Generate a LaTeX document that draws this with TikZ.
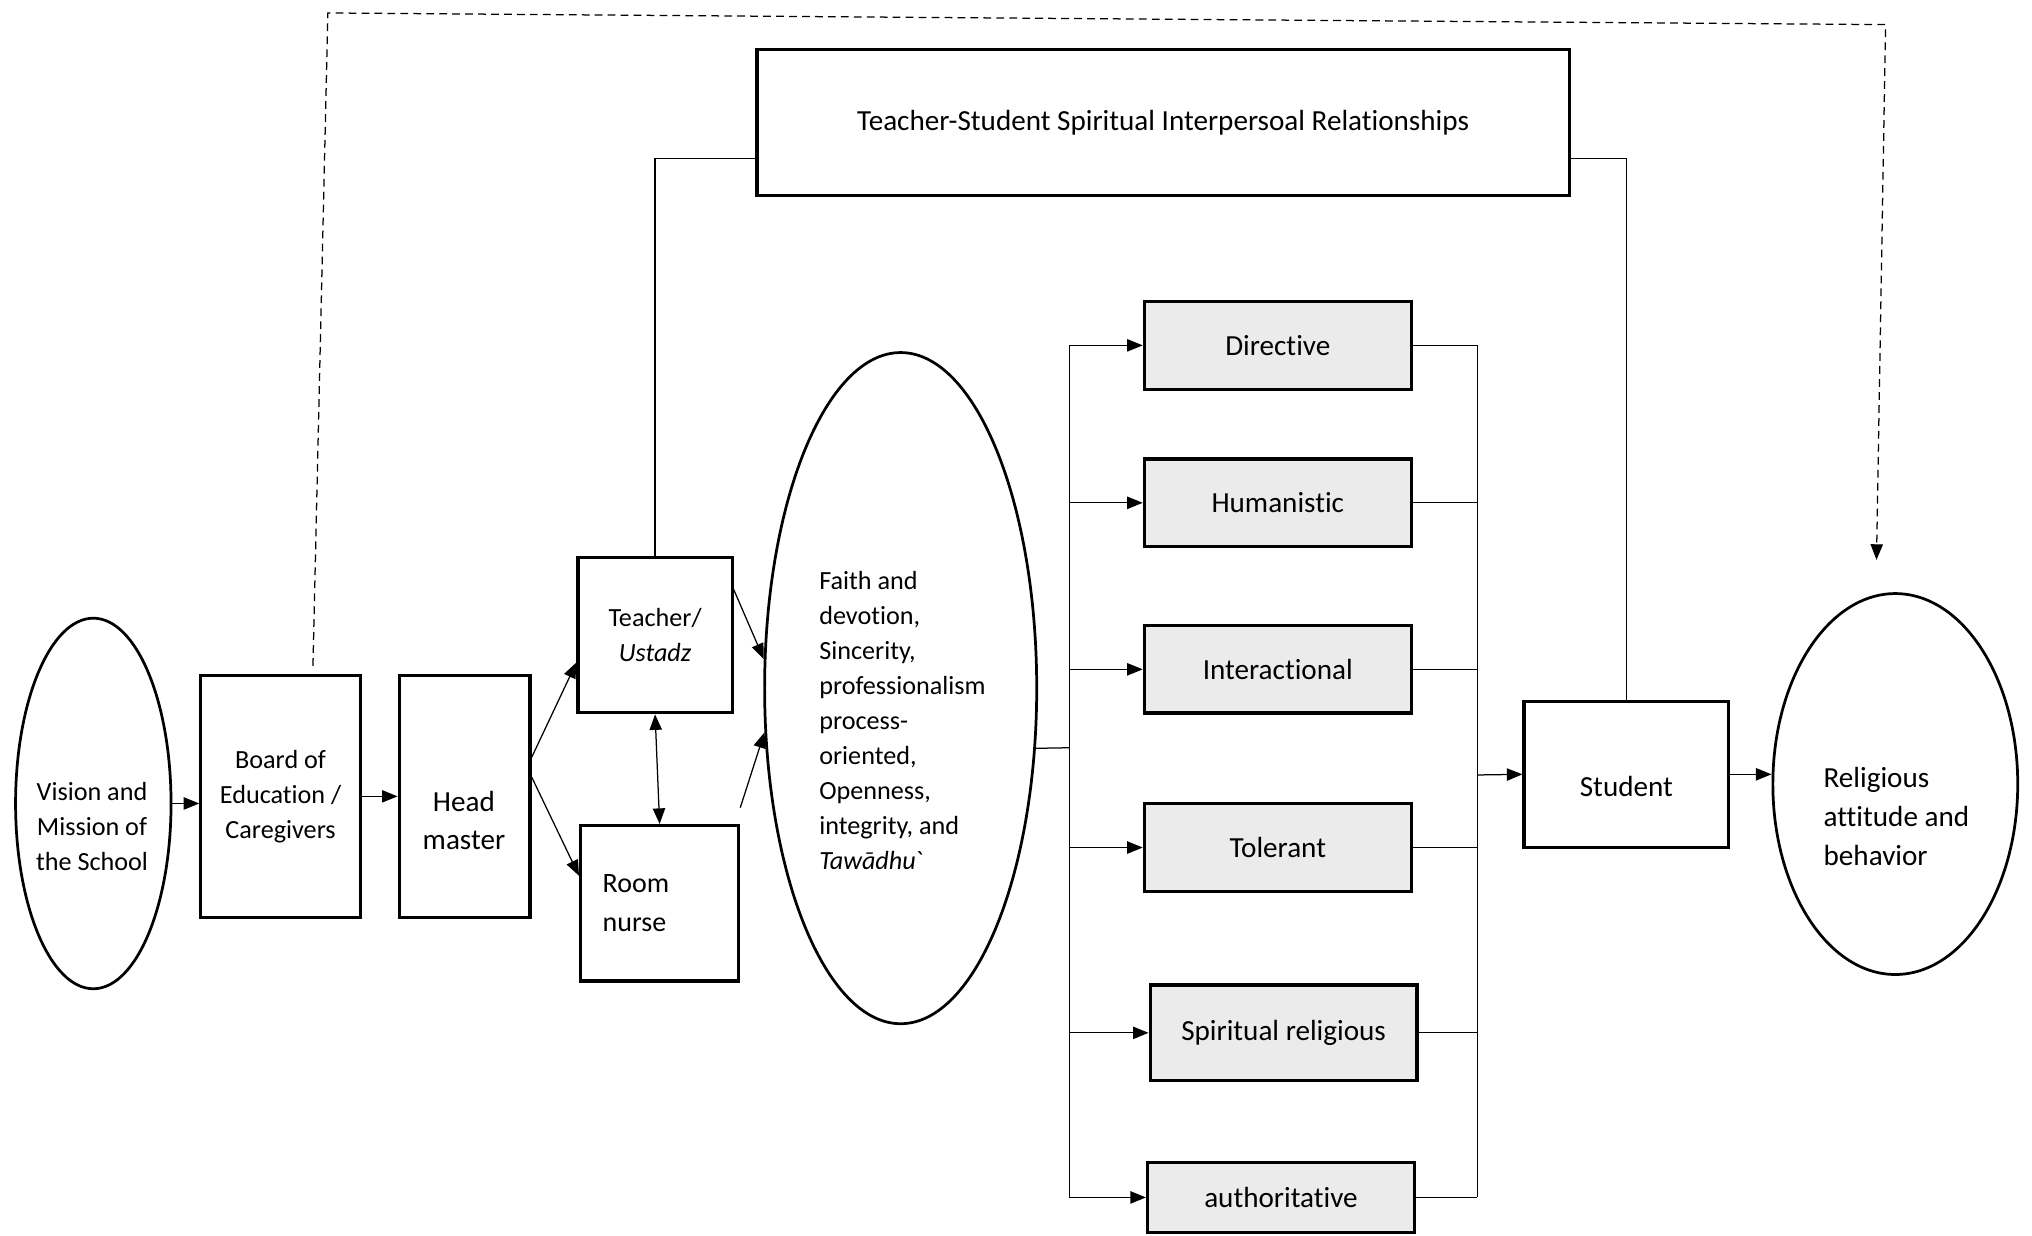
\documentclass[tikz,border=0pt]{standalone}
\usepackage{fontspec}
\setmainfont{Carlito}[Ligatures={TeX,NoCommon}]
\usetikzlibrary{shapes,arrows.meta,positioning}

\begin{document}
\begin{tikzpicture}[
    x=0.02cm, y=-0.02cm,
    >={Triangle[length=0.24cm, width=0.19cm]},
    plainbox/.style={rectangle, draw, line width=1.4pt, fill=white, align=center, inner sep=0pt, font=\fontsize{12.8}{17}\selectfont},
    graybox/.style={plainbox, fill=black!8, minimum width=4.12cm, minimum height=1.35cm},
    oval/.style={ellipse, draw, line width=1.2pt, inner sep=0pt},
    smalltext/.style={font=\fontsize{11.5}{15.4}\selectfont},
    link/.style={line width=0.55pt},
    flow/.style={link, ->},
    dashedlink/.style={flow, dash pattern=on 0.12cm off 0.08cm}
]
    \useasboundingbox (0,0) rectangle (1568,953);

    \node [oval, minimum width=2.4cm, minimum height=5.72cm] (vision) at (72,620) {};
    \node [smalltext, align=center] (visiontext) at (71,638) {Vision and\\Mission of\\the School};

    \node [plainbox, smalltext, minimum width=2.46cm, minimum height=3.74cm] (board) at (216.5,614.5) {Board of\\Education /\\Caregivers};

    \node [plainbox, minimum width=2.02cm, minimum height=3.74cm] (head) at (358.5,614.5) {};
    \node [align=center, font=\fontsize{12.8}{16.5}\selectfont] (headtext) at (358,633) {Head\\master};

    \node [plainbox, smalltext, minimum width=2.38cm, minimum height=2.4cm] (teacher) at (505.5,490) {Teacher/\\\textit{Ustadz}};
    \node [plainbox, text width=1.76cm, align=left, minimum width=2.44cm, minimum height=2.4cm, font=\fontsize{12.3}{17}\selectfont] (nurse) at (509,697) {Room\\nurse};

    \node [oval, minimum width=4.2cm, minimum height=10.36cm] (values) at (695,531) {};
    \node [smalltext, align=left, anchor=west] (valuestext) at (626,556) {Faith and\\devotion,\\Sincerity,\\professionalism\\process-\\oriented,\\Openness,\\integrity, and\\\textit{Tawādhu}\textasciigrave};

    \node [graybox] (directive) at (986,266.5) {Directive};
    \node [graybox] (humanistic) at (986,388) {Humanistic};
    \node [graybox] (interactional) at (986,516.5) {Interactional};
    \node [graybox] (tolerant) at (986,654) {Tolerant};
    \node [graybox, minimum height=1.48cm] (spiritual) at (990.5,797) {Spiritual religious};
    \node [graybox, minimum height=1.08cm] (authoritative) at (988.5,924) {authoritative};

    \node [plainbox, minimum width=3.16cm, minimum height=2.26cm] (student) at (1255,597.5) {};
    \node [font=\fontsize{12.8}{17}\selectfont] (studenttext) at (1255,607) {Student};

    \node [oval, minimum width=3.78cm, minimum height=5.88cm] (religious) at (1462.5,605) {};
    \node [align=left, anchor=west, font=\fontsize{12.8}{17}\selectfont] (religioustext) at (1401,630) {Religious\\attitude and\\behavior};

    \node [plainbox, minimum width=12.54cm, minimum height=2.26cm] (relation) at (897.5,94.5) {Teacher-Student Spiritual Interpersoal Relationships};

    \coordinate (fork) at (825,577);
    \coordinate (join) at (1140,598);
    \coordinate (loopleft) at (253,10);
    \coordinate (loopright) at (1455,19);
    \coordinate (loopend) at (1448,432);

    \draw [flow] (vision.east) -- (vision.east -| board.west);
    \draw [flow] (board) -- (head);
    \draw [flow] ([yshift=0.6cm]head.east) -- ([yshift=0.8cm]teacher.south west);
    \draw [flow] ([yshift=0.3cm]head.east) -- ([yshift=-0.8cm]nurse.north west);
    \draw [link, <->] (teacher.south) -- (nurse.north);
    \draw [flow] ([yshift=0.7cm]teacher.east) -- (values.168);
    \draw [flow] ([yshift=0.25cm]nurse.north east) -- (values.198);

    \draw [link] (values.-24) -- (fork);
    \draw [link] (directive.west -| fork) -- (authoritative.west -| fork);
    \draw [flow] (directive.west -| fork) -- (directive.west);
    \draw [flow] (humanistic.west -| fork) -- (humanistic.west);
    \draw [flow] (interactional.west -| fork) -- (interactional.west);
    \draw [flow] (tolerant.west -| fork) -- (tolerant.west);
    \draw [flow] (spiritual.west -| fork) -- (spiritual.west);
    \draw [flow] (authoritative.west -| fork) -- (authoritative.west);

    \draw [link] (directive.east) -- (directive.east -| join);
    \draw [link] (humanistic.east) -- (humanistic.east -| join);
    \draw [link] (interactional.east) -- (interactional.east -| join);
    \draw [link] (tolerant.east) -- (tolerant.east -| join);
    \draw [link] (spiritual.east) -- (spiritual.east -| join);
    \draw [link] (authoritative.east) -- (authoritative.east -| join);
    \draw [link] (directive.east -| join) -- (authoritative.east -| join);
    \draw [flow] (join) -- (student.west);
    \draw [flow] (student.east) -- (student.east -| religious.west);

    \draw [link] (teacher.north) |- ([yshift=-0.56cm]relation.west);
    \draw [link] ([yshift=-0.56cm]relation.east) -| (student.north);
    \draw [dashedlink] ([xshift=0.5cm,yshift=0.12cm]board.north) -- (loopleft) -- (loopright) -- (loopend);

\end{tikzpicture}
\end{document}
